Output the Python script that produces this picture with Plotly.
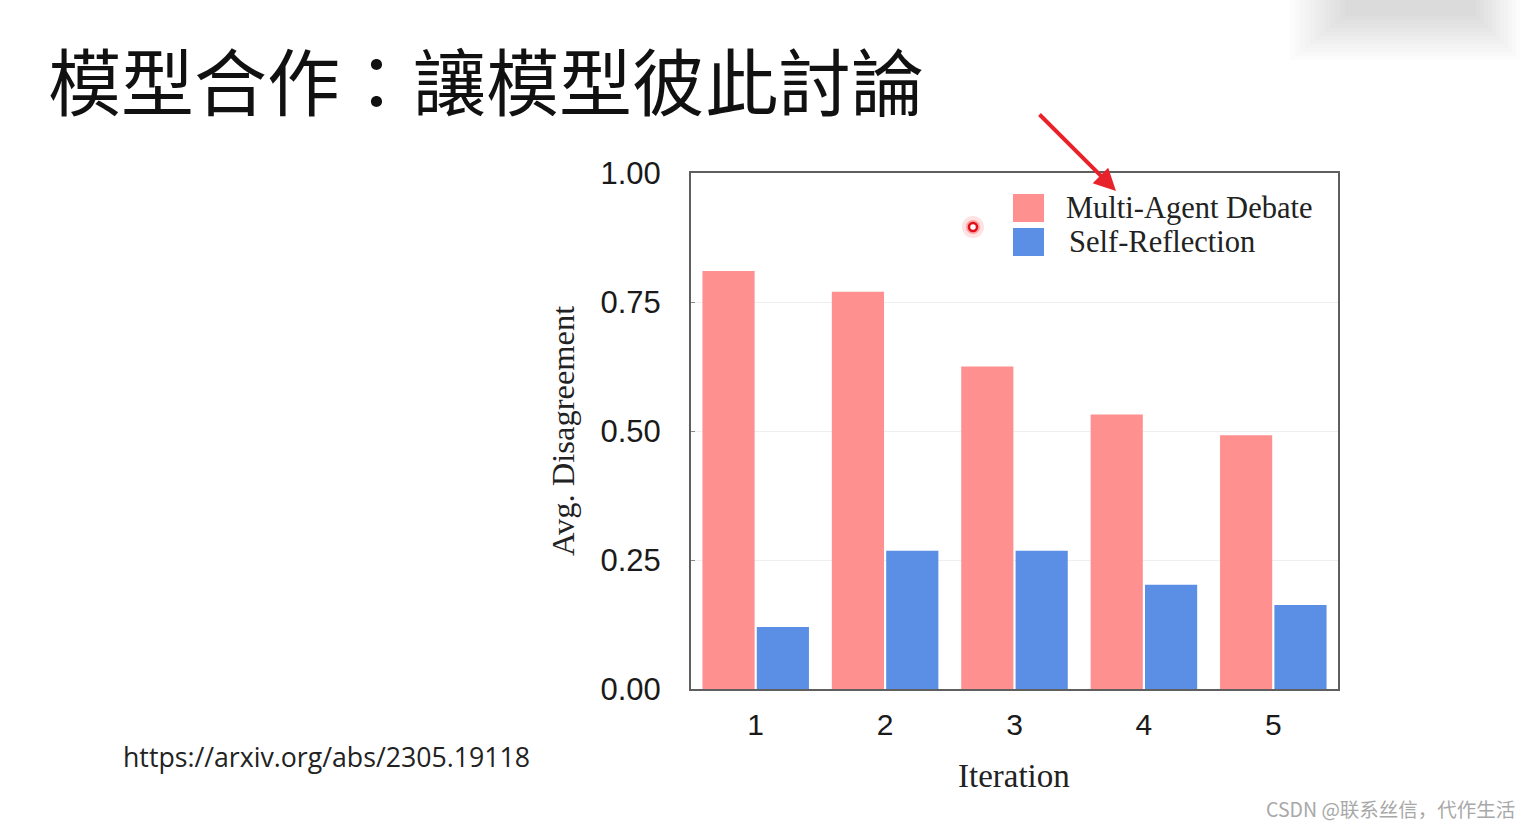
import plotly.graph_objects as go

iterations = ["1", "2", "3", "4", "5"]
multi_agent = [0.81, 0.77, 0.625, 0.532, 0.492]
self_reflection = [0.12, 0.268, 0.268, 0.202, 0.163]

W, H = 1533, 827
L, R, T, B = 691, 1338, 173, 689


def px(x):
    return (x - L) / (R - L)


def py(y):
    return (B - y) / (B - T)


PINK = "#FE9090"
BLUE = "#5A8FE5"

fig = go.Figure()
fig.add_trace(go.Bar(x=iterations, y=multi_agent, name="Multi-Agent Debate",
                     marker=dict(color=PINK, line=dict(width=0))))
fig.add_trace(go.Bar(x=iterations, y=self_reflection, name="Self-Reflection",
                     marker=dict(color=BLUE, line=dict(width=0))))

fig.update_layout(
    width=W, height=H,
    margin=dict(l=L, r=W - R, t=T, b=H - B),
    paper_bgcolor="white", plot_bgcolor="white",
    barmode="group", bargap=0.16, bargroupgap=0.04,
    showlegend=False,
    font=dict(family="Liberation Sans, Arial", color="#222"),
)
fig.update_xaxes(
    type="category", range=[-0.5, 4.5],
    showline=True, mirror=True, linecolor="#5f5f5f", linewidth=2,
    showgrid=False, ticks="", ticklabelstandoff=8,
    tickfont=dict(size=30, family="Liberation Sans, Arial", color="#1a1a1a"),
)
fig.update_yaxes(
    range=[0, 1.0], tickvals=[0, 0.25, 0.5, 0.75, 1.0],
    ticktext=["0.00", "0.25", "0.50", "0.75", "1.00"],
    showline=True, mirror=True, linecolor="#5f5f5f", linewidth=2,
    showgrid=True, gridcolor="#efefef", gridwidth=1, zeroline=False,
    ticks="inside", ticklen=4, tickcolor="#8a8a8a",
    ticklabelstandoff=22,
    tickfont=dict(size=31, family="Liberation Sans, Arial", color="#1a1a1a"),
)

ann = []
# Title
ann.append(dict(text="模型合作：讓模型彼此討論", x=px(46), y=py(78), xref="paper", yref="paper",
                xanchor="left", yanchor="middle", showarrow=False,
                font=dict(size=73, family="Noto Sans CJK TC", color="#111")))
# Axis titles
ann.append(dict(text="Avg. Disagreement", x=px(563), y=py(431), xref="paper", yref="paper",
                xanchor="center", yanchor="middle", showarrow=False, textangle=-90,
                font=dict(size=32.5, family="Liberation Serif, Times New Roman", color="#222")))
ann.append(dict(text="Iteration", x=px(1014), y=py(776), xref="paper", yref="paper",
                xanchor="center", yanchor="middle", showarrow=False,
                font=dict(size=33, family="Liberation Serif, Times New Roman", color="#222")))
# Legend texts
ann.append(dict(text="Multi-Agent Debate", x=px(1064), y=py(208), xref="paper", yref="paper",
                xanchor="left", yanchor="middle", showarrow=False,
                font=dict(size=30.5, family="Liberation Serif, Times New Roman", color="#222")))
ann.append(dict(text="Self-Reflection", x=px(1067), y=py(242), xref="paper", yref="paper",
                xanchor="left", yanchor="middle", showarrow=False,
                font=dict(size=30.5, family="Liberation Serif, Times New Roman", color="#222")))
# URL
ann.append(dict(text="https://arxiv.org/abs/2305.19118", x=px(121), y=py(756), xref="paper", yref="paper",
                xanchor="left", yanchor="middle", showarrow=False,
                font=dict(size=26.7, family="Open Sans", color="#222")))
# Watermark
ann.append(dict(text="CSDN @联系丝信，代作生活", x=px(1517), y=py(808), xref="paper", yref="paper",
                xanchor="right", yanchor="middle", showarrow=False,
                font=dict(size=19.5, family="Noto Sans CJK SC", color="#a8a8a8")))
# Red arrow
ann.append(dict(text="", x=px(1116), y=py(191), xref="paper", yref="paper",
                ax=-78, ay=-78, axref="pixel", ayref="pixel",
                showarrow=True, arrowhead=2, arrowsize=1.1, arrowwidth=4, arrowcolor="#E8222B"))
fig.update_layout(annotations=ann)

shapes = []
# soft shadow in the top-right corner
for i in range(12):
    shapes.append(dict(type="rect", xref="paper", yref="paper",
                       x0=px(1290 + i * 5), x1=px(1520 - i * 4),
                       y0=py(60 - i * 4), y1=py(-10),
                       fillcolor="rgba(140,140,140,0.025)", line=dict(width=0), layer="below"))
# legend swatches
shapes.append(dict(type="rect", xref="paper", yref="paper", x0=px(1013), x1=px(1044),
                   y0=py(222), y1=py(194), fillcolor=PINK, line=dict(width=0)))
shapes.append(dict(type="rect", xref="paper", yref="paper", x0=px(1013), x1=px(1044),
                   y0=py(256), y1=py(228), fillcolor=BLUE, line=dict(width=0)))
# red dot with glow
shapes.append(dict(type="circle", xref="paper", yref="paper", x0=px(962), x1=px(984),
                   y0=py(238), y1=py(216), fillcolor="rgba(255,60,60,0.15)", line=dict(width=0)))
shapes.append(dict(type="circle", xref="paper", yref="paper", x0=px(966), x1=px(980),
                   y0=py(234), y1=py(220), fillcolor="rgba(255,40,40,0.35)", line=dict(width=0)))
shapes.append(dict(type="circle", xref="paper", yref="paper", x0=px(969), x1=px(977),
                   y0=py(231), y1=py(223), fillcolor="white", line=dict(color="#E0101A", width=2.5)))
fig.update_layout(shapes=shapes)

fig.write_html("out.html")
